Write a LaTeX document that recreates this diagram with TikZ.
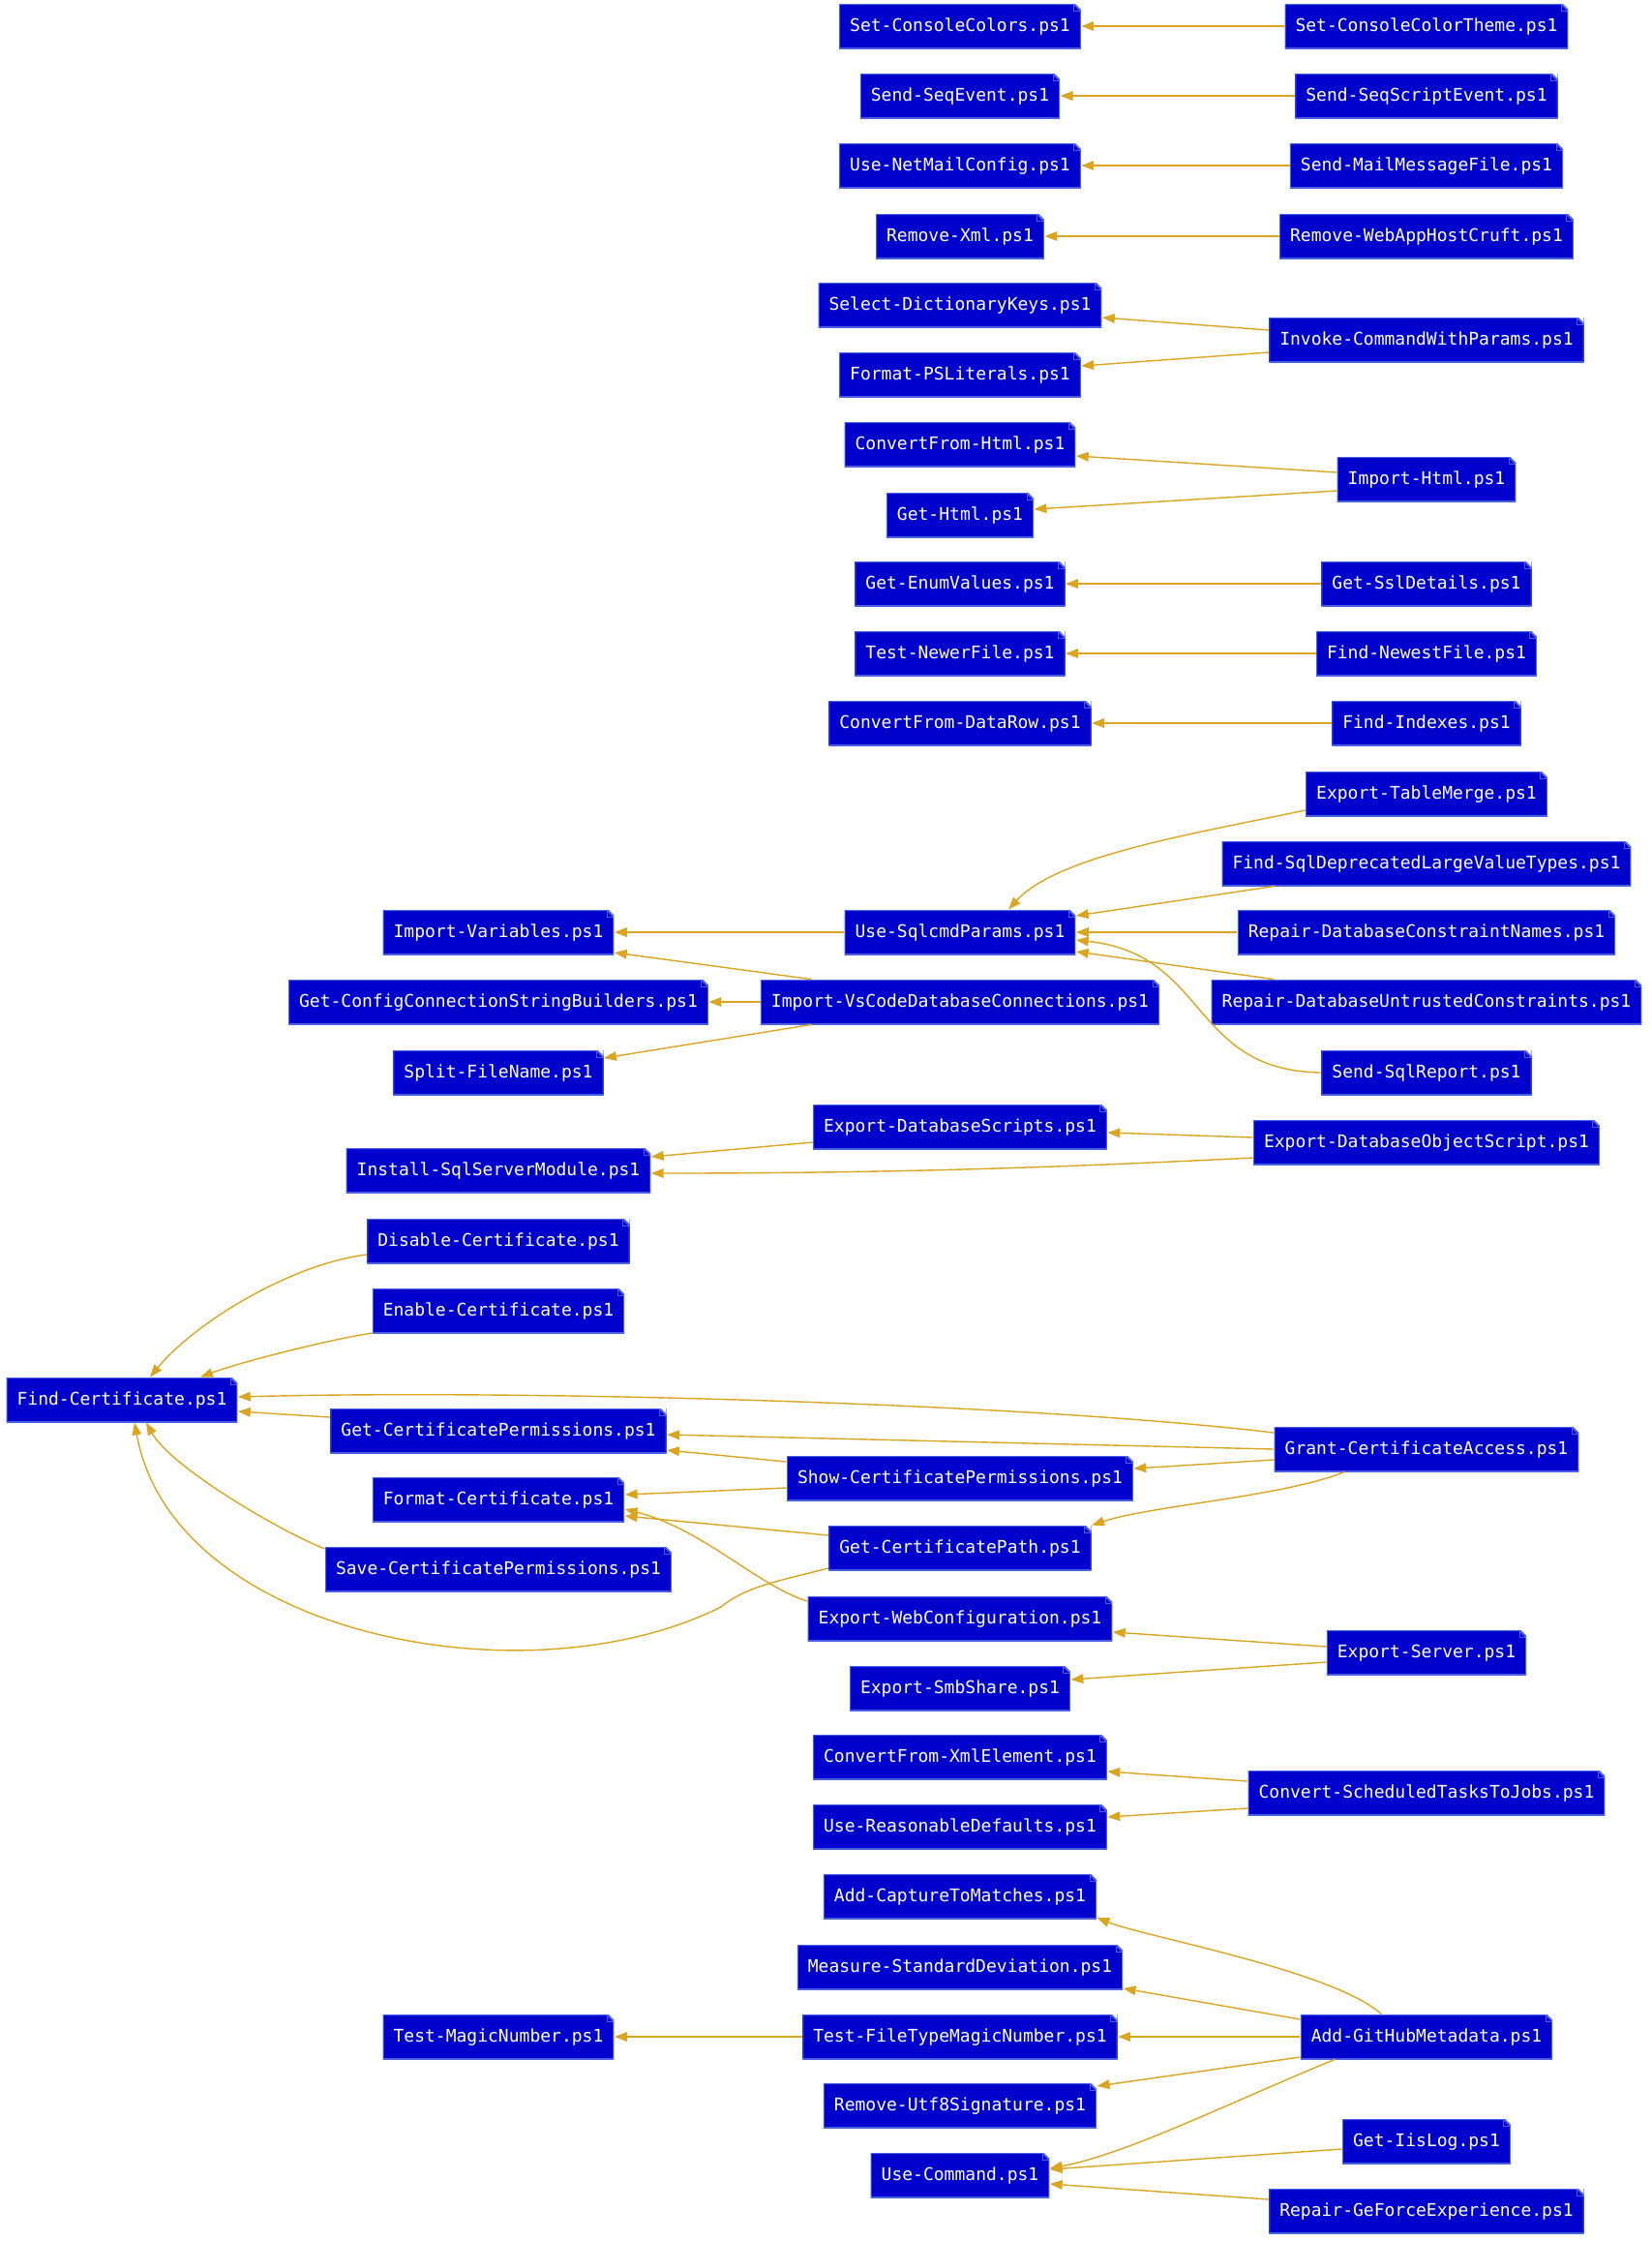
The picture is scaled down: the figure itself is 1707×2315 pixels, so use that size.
\documentclass[tikz,border=0pt]{standalone}
\usepackage{fontspec}
\newfontfamily\nodemono{DejaVu Sans Mono}
\usetikzlibrary{arrows.meta,calc}
\definecolor{scriptblue}{HTML}{0000CC}
\definecolor{scriptline}{HTML}{4A5FE8}
\definecolor{depgold}{HTML}{DAA520}

\begin{document}
\begin{tikzpicture}[x=0.5pt, y=-0.5pt,
    script/.style={rectangle, fill=scriptblue, text=white,
        font=\nodemono\fontsize{9}{11}\selectfont,
        minimum height=23pt, inner xsep=5.5pt, inner ysep=0pt,
        text height=7pt, text depth=2pt,
        path picture={
            \fill[white] ([xshift=-3.5pt]path picture bounding box.north east)
                -- (path picture bounding box.north east)
                -- ([yshift=-3.5pt]path picture bounding box.north east) -- cycle;
            \draw[scriptline, line width=1pt] (path picture bounding box.south west)
                -- (path picture bounding box.south east)
                -- ([yshift=-3.5pt]path picture bounding box.north east)
                -- ([xshift=-3.5pt]path picture bounding box.north east)
                -- (path picture bounding box.north west) -- cycle;
            \draw[scriptline, line width=0.5pt] ([xshift=-3.5pt]path picture bounding box.north east)
                -- ([xshift=-3.5pt, yshift=-3.5pt]path picture bounding box.north east)
                -- ([yshift=-3.5pt]path picture bounding box.north east);
        }},
    dep/.style={draw=depgold, line width=0.7pt, -{Triangle[length=6.5pt, width=4.8pt]}}]

    \useasboundingbox (0,0) rectangle (1707,2315);

    % --- Scripts that are used (left columns) ---
    \node[script] (FindCertificate) at (126,1446) {Find-Certificate.ps1};

    \node[script] (ImportVariables) at (515,963) {Import-Variables.ps1};
    \node[script] (GetConfigConnectionStringBuilders) at (515,1035) {Get-ConfigConnectionStringBuilders.ps1};
    \node[script] (SplitFileName) at (515,1108) {Split-FileName.ps1};
    \node[script] (InstallSqlServerModule) at (515,1209) {Install-SqlServerModule.ps1};
    \node[script] (DisableCertificate) at (515,1282) {Disable-Certificate.ps1};
    \node[script] (EnableCertificate) at (515,1354) {Enable-Certificate.ps1};
    \node[script] (GetCertificatePermissions) at (515,1478) {Get-CertificatePermissions.ps1};
    \node[script] (FormatCertificate) at (515,1549) {Format-Certificate.ps1};
    \node[script] (SaveCertificatePermissions) at (515,1621) {Save-CertificatePermissions.ps1};
    \node[script] (TestMagicNumber) at (515,2104) {Test-MagicNumber.ps1};

    % --- Middle column ---
    \node[script] (SetConsoleColors) at (992,27) {Set-ConsoleColors.ps1};
    \node[script] (SendSeqEvent) at (992,99) {Send-SeqEvent.ps1};
    \node[script] (UseNetMailConfig) at (992,171) {Use-NetMailConfig.ps1};
    \node[script] (RemoveXml) at (992,244) {Remove-Xml.ps1};
    \node[script] (SelectDictionaryKeys) at (992,315) {Select-DictionaryKeys.ps1};
    \node[script] (FormatPSLiterals) at (992,387) {Format-PSLiterals.ps1};
    \node[script] (ConvertFromHtml) at (992,459) {ConvertFrom-Html.ps1};
    \node[script] (GetHtml) at (992,532) {Get-Html.ps1};
    \node[script] (GetEnumValues) at (992,603) {Get-EnumValues.ps1};
    \node[script] (TestNewerFile) at (992,675) {Test-NewerFile.ps1};
    \node[script] (ConvertFromDataRow) at (992,747) {ConvertFrom-DataRow.ps1};
    \node[script] (UseSqlcmdParams) at (992,963) {Use-SqlcmdParams.ps1};
    \node[script] (ImportVsCodeDatabaseConnections) at (992,1035) {Import-VsCodeDatabaseConnections.ps1};
    \node[script] (ExportDatabaseScripts) at (992,1164) {Export-DatabaseScripts.ps1};
    \node[script] (ShowCertificatePermissions) at (992,1527) {Show-CertificatePermissions.ps1};
    \node[script] (GetCertificatePath) at (992,1599) {Get-CertificatePath.ps1};
    \node[script] (ExportWebConfiguration) at (992,1672) {Export-WebConfiguration.ps1};
    \node[script] (ExportSmbShare) at (992,1744) {Export-SmbShare.ps1};
    \node[script] (ConvertFromXmlElement) at (992,1815) {ConvertFrom-XmlElement.ps1};
    \node[script] (UseReasonableDefaults) at (992,1887) {Use-ReasonableDefaults.ps1};
    \node[script] (AddCaptureToMatches) at (992,1959) {Add-CaptureToMatches.ps1};
    \node[script] (MeasureStandardDeviation) at (992,2032) {Measure-StandardDeviation.ps1};
    \node[script] (TestFileTypeMagicNumber) at (992,2104) {Test-FileTypeMagicNumber.ps1};
    \node[script] (RemoveUtf8Signature) at (992,2175) {Remove-Utf8Signature.ps1};
    \node[script] (UseCommand) at (992,2247) {Use-Command.ps1};

    % --- Calling scripts (right column) ---
    \node[script] (SetConsoleColorTheme) at (1474,27) {Set-ConsoleColorTheme.ps1};
    \node[script] (SendSeqScriptEvent) at (1474,99) {Send-SeqScriptEvent.ps1};
    \node[script] (SendMailMessageFile) at (1474,171) {Send-MailMessageFile.ps1};
    \node[script] (RemoveWebAppHostCruft) at (1474,244) {Remove-WebAppHostCruft.ps1};
    \node[script] (InvokeCommandWithParams) at (1474,351) {Invoke-CommandWithParams.ps1};
    \node[script] (ImportHtml) at (1474,495) {Import-Html.ps1};
    \node[script] (GetSslDetails) at (1474,603) {Get-SslDetails.ps1};
    \node[script] (FindNewestFile) at (1474,675) {Find-NewestFile.ps1};
    \node[script] (FindIndexes) at (1474,747) {Find-Indexes.ps1};
    \node[script] (ExportTableMerge) at (1474,820) {Export-TableMerge.ps1};
    \node[script] (FindSqlDeprecatedLargeValueTypes) at (1474,892) {Find-SqlDeprecatedLargeValueTypes.ps1};
    \node[script] (RepairDatabaseConstraintNames) at (1474,963) {Repair-DatabaseConstraintNames.ps1};
    \node[script] (RepairDatabaseUntrustedConstraints) at (1474,1035) {Repair-DatabaseUntrustedConstraints.ps1};
    \node[script] (SendSqlReport) at (1474,1108) {Send-SqlReport.ps1};
    \node[script] (ExportDatabaseObjectScript) at (1474,1180) {Export-DatabaseObjectScript.ps1};
    \node[script] (GrantCertificateAccess) at (1474,1497) {Grant-CertificateAccess.ps1};
    \node[script] (ExportServer) at (1474,1707) {Export-Server.ps1};
    \node[script] (ConvertScheduledTasksToJobs) at (1474,1852) {Convert-ScheduledTasksToJobs.ps1};
    \node[script] (AddGitHubMetadata) at (1474,2104) {Add-GitHubMetadata.ps1};
    \node[script] (GetIisLog) at (1474,2212) {Get-IisLog.ps1};
    \node[script] (RepairGeForceExperience) at (1474,2284) {Repair-GeForceExperience.ps1};

    % --- Simple pairs ---
    \draw[dep] (SetConsoleColorTheme.west) -- (SetConsoleColors.east);
    \draw[dep] (SendSeqScriptEvent.west) -- (SendSeqEvent.east);
    \draw[dep] (SendMailMessageFile.west) -- (UseNetMailConfig.east);
    \draw[dep] (RemoveWebAppHostCruft.west) -- (RemoveXml.east);
    \draw[dep] ($(InvokeCommandWithParams.west)+(0,-10)$) -- ($(SelectDictionaryKeys.east)+(0,13)$);
    \draw[dep] ($(InvokeCommandWithParams.west)+(0,13)$) -- ($(FormatPSLiterals.east)+(0,-9)$);
    \draw[dep] ($(ImportHtml.west)+(0,-7)$) -- ($(ConvertFromHtml.east)+(0,12)$);
    \draw[dep] ($(ImportHtml.west)+(0,12)$) -- ($(GetHtml.east)+(0,-6)$);
    \draw[dep] (GetSslDetails.west) -- (GetEnumValues.east);
    \draw[dep] (FindNewestFile.west) -- (TestNewerFile.east);
    \draw[dep] (FindIndexes.west) -- (ConvertFromDataRow.east);

    % --- SQL scripts ---
    \draw[dep] ($(ExportTableMerge.west)+(0,17)$) .. controls +(-120,25) and +(50,-55) .. ($(UseSqlcmdParams.north)+(50,0)$);
    \draw[dep] ($(FindSqlDeprecatedLargeValueTypes.south west)+(55,0)$) -- ($(UseSqlcmdParams.east)+(0,-17)$);
    \draw[dep] (RepairDatabaseConstraintNames.west) -- (UseSqlcmdParams.east);
    \draw[dep] ($(RepairDatabaseUntrustedConstraints.north west)+(65,0)$) -- ($(UseSqlcmdParams.east)+(0,20)$);
    \draw[dep] (SendSqlReport.west) .. controls +(-136,-2) and +(138,15) .. ($(UseSqlcmdParams.east)+(0,8)$);
    \draw[dep] (UseSqlcmdParams.west) -- (ImportVariables.east);
    \draw[dep] ($(ImportVsCodeDatabaseConnections.north west)+(53,0)$) -- ($(ImportVariables.east)+(0,21)$);
    \draw[dep] (ImportVsCodeDatabaseConnections.west) -- (GetConfigConnectionStringBuilders.east);
    \draw[dep] ($(ImportVsCodeDatabaseConnections.south west)+(53,0)$) -- ($(SplitFileName.east)+(0,-15)$);
    \draw[dep] ($(ExportDatabaseObjectScript.west)+(0,-5)$) -- ($(ExportDatabaseScripts.east)+(0,6)$);
    \draw[dep] ($(ExportDatabaseObjectScript.west)+(0,16)$) .. controls +(-200,10) and +(250,0) .. ($(InstallSqlServerModule.east)+(0,3)$);
    \draw[dep] ($(ExportDatabaseScripts.west)+(0,16)$) -- ($(InstallSqlServerModule.east)+(0,-14)$);

    % --- Certificate scripts ---
    \draw[dep] ($(DisableCertificate.west)+(0,14)$) .. controls +(-80,10) and +(45,-55) .. ($(FindCertificate.north)+(29,0)$);
    \draw[dep] ($(EnableCertificate.west)+(0,23)$) .. controls +(-50,8) and +(40,-15) .. ($(FindCertificate.north)+(81,0)$);
    \draw[dep] ($(GrantCertificateAccess.west)+(0,-17)$) .. controls +(-250,-30) and +(300,-8) .. ($(FindCertificate.east)+(0,-3)$);
    \draw[dep] (GrantCertificateAccess.west) -- ($(GetCertificatePermissions.east)+(0,4)$);
    \draw[dep] ($(GrantCertificateAccess.west)+(0,11)$) -- ($(ShowCertificatePermissions.east)+(0,-10)$);
    \draw[dep] ($(GrantCertificateAccess.south west)+(73,0)$) .. controls +(-60,25) and +(60,-20) .. (GetCertificatePath.north east);
    \draw[dep] ($(GetCertificatePermissions.west)+(0,-14)$) -- ($(FindCertificate.east)+(0,12)$);
    \draw[dep] ($(ShowCertificatePermissions.west)+(0,-17)$) -- ($(GetCertificatePermissions.east)+(0,20)$);
    \draw[dep] ($(ShowCertificatePermissions.west)+(0,10)$) -- ($(FormatCertificate.east)+(0,-5)$);
    \draw[dep] ($(GetCertificatePath.west)+(0,-13)$) -- ($(FormatCertificate.east)+(0,17)$);
    \draw[dep] ($(ExportWebConfiguration.west)+(0,-18)$) .. controls +(-50,-15) and +(80,20) .. ($(FormatCertificate.east)+(0,10)$);
    \draw[dep] ($(GetCertificatePath.west)+(0,21)$) .. controls +(-60,15) and +(25,-20) .. (745,1660)
        .. controls +(-200,100) and +(40,220) .. ($(FindCertificate.south)+(13,0)$);
    \draw[dep] ($(SaveCertificatePermissions.west)+(0,-21)$) .. controls +(-50,-20) and +(25,45) .. ($(FindCertificate.south)+(25,0)$);

    % --- Export, tasks and GitHub scripts ---
    \draw[dep] ($(ExportServer.west)+(0,-6)$) -- ($(ExportWebConfiguration.east)+(0,14)$);
    \draw[dep] ($(ExportServer.west)+(0,10)$) -- ($(ExportSmbShare.east)+(0,-9)$);
    \draw[dep] ($(ConvertScheduledTasksToJobs.west)+(0,-12)$) -- ($(ConvertFromXmlElement.east)+(0,15)$);
    \draw[dep] ($(ConvertScheduledTasksToJobs.west)+(0,16)$) -- ($(UseReasonableDefaults.east)+(0,-10)$);
    \draw[dep] ($(AddGitHubMetadata.north west)+(84,0)$) .. controls +(-50,-45) and +(50,20) .. ($(AddCaptureToMatches.east)+(0,22)$);
    \draw[dep] ($(AddGitHubMetadata.west)+(0,-18)$) -- ($(MeasureStandardDeviation.east)+(0,22)$);
    \draw[dep] (AddGitHubMetadata.west) -- (TestFileTypeMagicNumber.east);
    \draw[dep] ($(AddGitHubMetadata.west)+(0,21)$) -- ($(RemoveUtf8Signature.east)+(0,-20)$);
    \draw[dep] ($(AddGitHubMetadata.south west)+(36,0)$) .. controls +(-110,45) and +(80,-15) .. ($(UseCommand.east)+(0,-7)$);
    \draw[dep] (TestFileTypeMagicNumber.west) -- (TestMagicNumber.east);
    \draw[dep] ($(GetIisLog.west)+(0,8)$) -- ($(UseCommand.east)+(0,-6)$);
    \draw[dep] ($(RepairGeForceExperience.west)+(0,-12)$) -- ($(UseCommand.east)+(0,9)$);
\end{tikzpicture}
\end{document}
